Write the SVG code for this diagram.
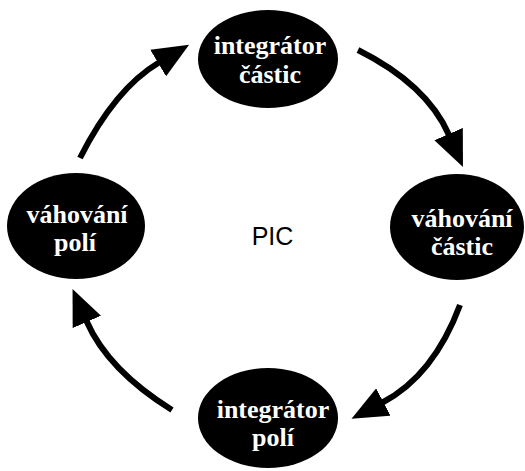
<svg xmlns="http://www.w3.org/2000/svg" width="525" height="471" viewBox="0 0 525 471">
<style>
.node{fill:#000}
.lbl{fill:#fff;font-family:"Liberation Serif","Times New Roman",serif;font-weight:bold;font-size:26px;text-anchor:middle}
.arc{fill:none;stroke:#000;stroke-width:6;marker-end:url(#ah)}
.pic{font-family:"Liberation Sans",Arial,sans-serif;font-size:25px;fill:#000;text-anchor:middle}
</style>
<defs>
<marker id="ah" markerUnits="userSpaceOnUse" markerWidth="36" markerHeight="31" refX="1" refY="15.5" orient="auto" viewBox="0 0 36 31">
<path d="M0,0 L36,15.5 L0,31 z" fill="#000"/>
</marker>
</defs>
<rect width="525" height="471" fill="#fff"/>
<g id="connectors">
<path class="arc" d="M80,158 Q115,88.6 159,62.5"/>
<path class="arc" d="M358,50 Q427,84.5 449,135"/>
<path class="arc" d="M460,305 Q433.7,375.5 382.5,402.5"/>
<path class="arc" d="M172,410 Q107.8,370 86.5,321"/>
</g>
<g id="integrator-castic">
<ellipse class="node" cx="268" cy="59" rx="70" ry="49"/>
<text class="lbl" x="270" y="54">integrátor</text>
<text class="lbl" x="270" y="83">částic</text>
</g>
<g id="vahovani-castic">
<ellipse class="node" cx="457" cy="227" rx="67" ry="53"/>
<text class="lbl" x="462" y="227">váhování</text>
<text class="lbl" x="462" y="255">částic</text>
</g>
<g id="integrator-poli">
<ellipse class="node" cx="268" cy="418" rx="70" ry="50"/>
<text class="lbl" x="273" y="418">integrátor</text>
<text class="lbl" x="273" y="446">polí</text>
</g>
<g id="vahovani-poli">
<ellipse class="node" cx="76" cy="226" rx="69" ry="53"/>
<text class="lbl" x="77" y="223">váhování</text>
<text class="lbl" x="75" y="251">polí</text>
</g>
<g id="pic">
<text class="pic" x="272.5" y="245">PIC</text>
</g>
</svg>
